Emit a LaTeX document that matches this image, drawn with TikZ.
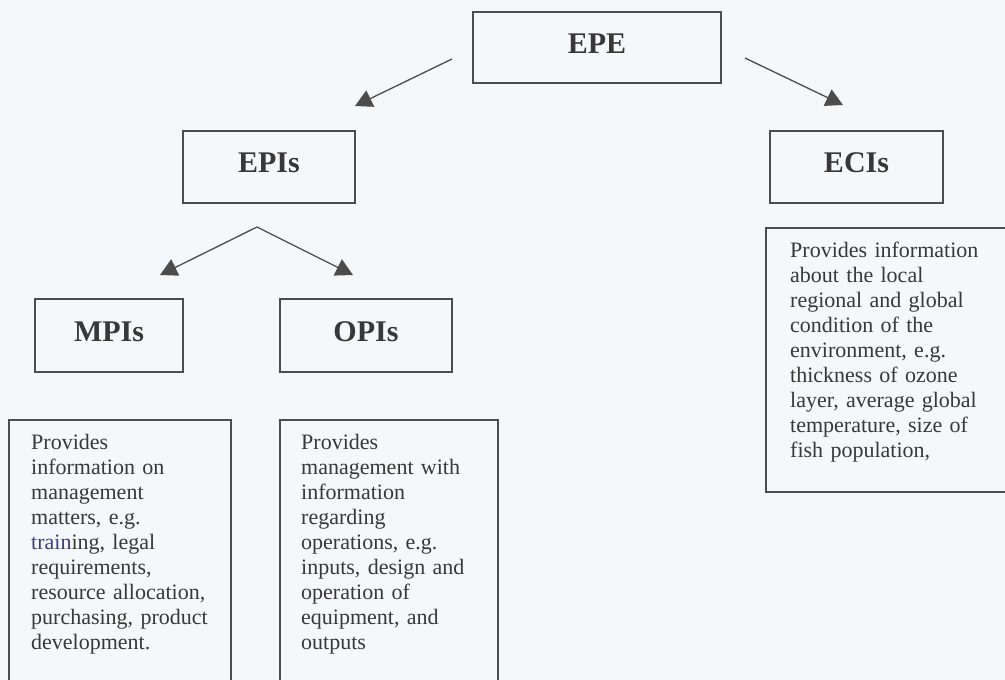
\documentclass[tikz,border=0pt]{standalone}
\usepackage{fontspec}
\setmainfont{Liberation Serif}
\usepackage{tikz}
\usepackage{xcolor}
\usetikzlibrary{arrows.meta, positioning}
\definecolor{Scan_Paper}{HTML}{F4F8FA}
\definecolor{Scan_Ink}{HTML}{383838}
\definecolor{Scan_Line}{HTML}{4C4C4C}
\definecolor{Scan_Blue}{HTML}{3A3F7A}

\tikzset{
    labelbox/.style={draw=Scan_Line, line width=1.2pt, text=Scan_Ink,
        font=\fontsize{30}{30}\selectfont\bfseries, inner sep=0pt,
        text height=19pt, text depth=8pt},
    desc/.style={anchor=north west, inner sep=0pt, text width=215pt, align=left,
        text=Scan_Ink, font=\fontsize{22}{25}\selectfont},
    descframe/.style={draw=Scan_Line, line width=1.2pt},
    link/.style={draw=Scan_Line, line width=1.3pt},
    tip/.style={-{Triangle[length=17pt,width=18pt]}},
}

\begin{document}
\begin{tikzpicture}[x=1pt, y=-1pt]

    \useasboundingbox (0,0) rectangle (1005,680);
    \clip (0,0) rectangle (1005,680);
    \fill[Scan_Paper] (0,0) rectangle (1005,680);

    % === Top level ===
    \node[labelbox, minimum width=248pt, minimum height=71pt] (epe) at (597,47.5) {EPE};

    % === Second level ===
    \node[labelbox, minimum width=172pt, minimum height=72pt] (epis) at (269,167) {EPIs};
    \node[labelbox, minimum width=173pt, minimum height=72pt] (ecis) at (856.5,167) {ECIs};

    % === Third level ===
    \node[labelbox, minimum width=148pt, minimum height=73pt] (mpis) at (109,335.5) {MPIs};
    \node[labelbox, minimum width=172pt, minimum height=73pt] (opis) at (366,335.5) {OPIs};

    % === Arrows (free ends) ===
    \coordinate (epe-l) at (452,59);
    \coordinate (epis-t) at (355,106);
    \coordinate (epe-r) at (745,58);
    \coordinate (ecis-t) at (843,105);
    \coordinate (split) at (257,227);
    \coordinate (mpis-t) at (160,275);
    \coordinate (opis-t) at (353,275);

    \draw[link, tip] (epe-l) -- (epis-t);
    \draw[link, tip] (epe-r) -- (ecis-t);
    \draw[link, {Triangle[length=17pt,width=18pt]}-{Triangle[length=17pt,width=18pt]}] (mpis-t) -- (split) -- (opis-t);

    % === Description boxes (open below / right) ===
    \draw[descframe] (9,420) rectangle (231,700);
    \node[desc, text width=195pt] (mpi-text) at (31,434) {Provides\\
        information on\\
        management\\
        matters, e.g.\\
        \textcolor{Scan_Blue}{train}ing, legal\\
        requirements,\\
        resource allocation,\\
        purchasing, product\\
        development.};

    \draw[descframe] (280,420) rectangle (498,700);
    \node[desc, text width=190pt] (opi-text) at (301,434) {Provides\\
        management with\\
        information\\
        regarding\\
        operations, e.g.\\
        inputs, design and\\
        operation of\\
        equipment, and\\
        outputs};

    \draw[descframe] (766,228) rectangle (1020,492);
    \node[desc, text width=212pt] (eci-text) at (790,242) {Provides information\\
        about the local\\
        regional and global\\
        condition of the\\
        environment, e.g.\\
        thickness of ozone\\
        layer, average global\\
        temperature, size of\\
        fish population,};

\end{tikzpicture}
\end{document}
